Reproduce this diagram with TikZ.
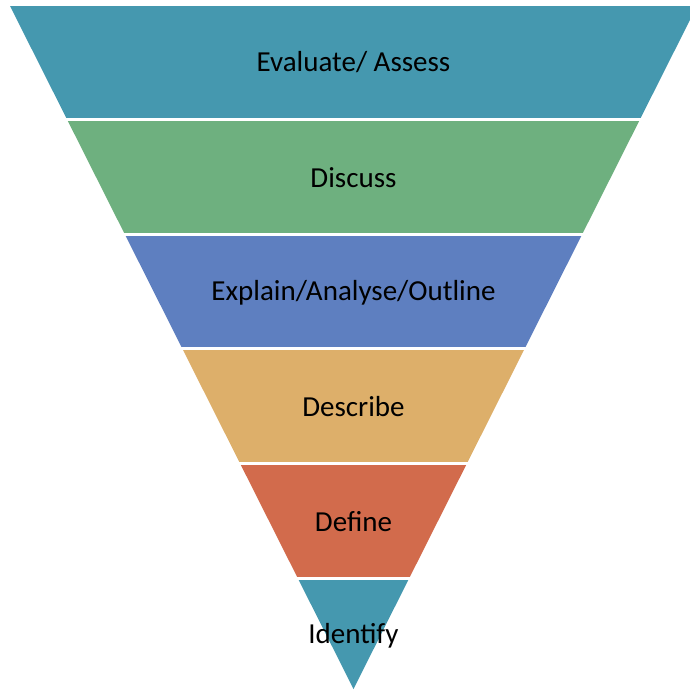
\documentclass[tikz,border=0pt]{standalone}
\usepackage{fontspec}
\setmainfont{Carlito}
\definecolor{bandteal}{HTML}{4598AF}
\definecolor{bandgreen}{HTML}{6EB07F}
\definecolor{bandblue}{HTML}{5E7FC0}
\definecolor{bandorange}{HTML}{DDAF6A}
\definecolor{bandred}{HTML}{D26B4C}
\begin{document}
\begin{tikzpicture}[x=1pt,y=-1pt,
  label/.style={text=black,font=\fontsize{29}{34}\selectfont,inner sep=0pt,anchor=center}]
\useasboundingbox (0,0) rectangle (689,691);
\begin{scope}
  % inverted funnel outline
  \clip (10,6) -- (697,6) -- (353.5,689) -- cycle;
  \fill[bandteal]   (0,6)     rectangle (700,118);
  \fill[bandgreen]  (0,120.5) rectangle (700,233);
  \fill[bandblue]   (0,235.5) rectangle (700,347);
  \fill[bandorange] (0,349.5) rectangle (700,462.3);
  \fill[bandred]    (0,465)   rectangle (700,577);
  \fill[bandteal]   (0,579.5) rectangle (700,695);
\end{scope}
\node[label] (evaluate) at (353.5,62.5)  {Evaluate/ Assess};
\node[label] (discuss)  at (353.5,177.5) {Discuss};
\node[label] (explain)  at (353.5,292.5) {Explain/Analyse/Outline};
\node[label] (describe) at (353.5,406.5) {Describe};
\node[label] (define)   at (353.5,521.5) {Define};
\node[label] (identify) at (353.5,635.5) {Identify};
\end{tikzpicture}
\end{document}
